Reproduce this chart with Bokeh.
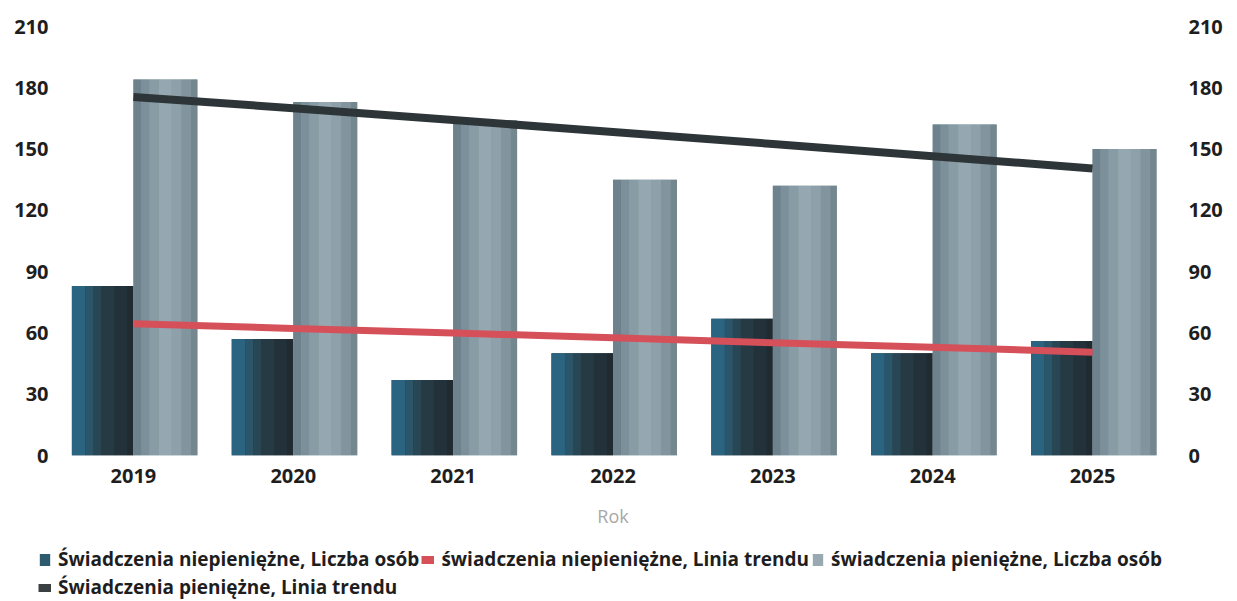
from bokeh.plotting import figure
from bokeh.models import (FactorRange, Range1d, LinearAxis, FixedTicker, Legend, LegendItem)
from bokeh.transform import dodge
from bokeh.layouts import column
from bokeh.embed import file_html
from bokeh.resources import INLINE

years = ["2019", "2020", "2021", "2022", "2023", "2024", "2025"]
niepieniezne = [83, 57, 37, 50, 67, 50, 56]
pieniezne = [184, 173, 164, 135, 132, 162, 150]
trend_niepieniezne = [64.5, 62.2, 60.0, 57.6, 55.2, 53.0, 50.6]
trend_pieniezne = [175.5, 170.0, 164.2, 158.4, 152.5, 146.5, 140.5]
y_ticks = [0, 30, 60, 90, 120, 150, 180, 210]

labels = ["Świadczenia niepieniężne, Liczba osób",
          "świadczenia niepieniężne, Linia trendu",
          "świadczenia pieniężne, Liczba osób",
          "Świadczenia pieniężne, Linia trendu"]

src = dict(year=years, a=niepieniezne, b=pieniezne,
           ta=trend_niepieniezne, tb=trend_pieniezne)

W = 1226
p = figure(x_range=FactorRange(*years), y_range=Range1d(0, 210),
           width=W, height=547,
           output_backend="svg", toolbar_location=None,
           min_border_left=53, min_border_right=54, min_border_top=26,
           min_border_bottom=92)
p.frame_align = False
p.outline_line_color = None
p.grid.visible = False
p.background_fill_color = "white"

# shading strips: (offset within bar, width, colour) - styling only
dark_strips = [(-0.3425, 0.085, "#2a6480"), (-0.275, 0.05, "#2b5568"),
               (-0.225, 0.05, "#284654"), (-0.16, 0.08, "#263a44"),
               (-0.08, 0.08, "#23323a"), (-0.02, 0.04, "#1f2a31")]
light_strips = [(0.025, 0.05, "#6d828c"), (0.075, 0.05, "#7b909a"),
                (0.13, 0.06, "#889ca6"), (0.2, 0.08, "#95a8b1"),
                (0.27, 0.06, "#8ea1aa"), (0.33, 0.06, "#82959f"),
                (0.38, 0.04, "#74878f")]

p.vbar(x=dodge("year", -0.1925, range=p.x_range), top="a", width=0.385,
       source=src, fill_color="#263c47", line_color=None)
for off, w, c in dark_strips:
    p.vbar(x=dodge("year", off, range=p.x_range), top="a", width=w,
           source=src, fill_color=c, line_color=None)

p.vbar(x=dodge("year", 0.2, range=p.x_range), top="b", width=0.40,
       source=src, fill_color="#879aa4", line_color=None)
for off, w, c in light_strips:
    p.vbar(x=dodge("year", off, range=p.x_range), top="b", width=w,
           source=src, fill_color=c, line_color=None)

# trend lines
p.line(x="year", y="tb", source=src, line_color="#2e3538", line_width=8)
p.line(x="year", y="ta", source=src, line_color="#d6505a", line_width=7)

tick_font = "Open Sans"
for ax in p.yaxis:
    ax.ticker = FixedTicker(ticks=y_ticks)
right = LinearAxis(ticker=FixedTicker(ticks=y_ticks))
p.add_layout(right, "right")

for ax in p.yaxis + p.xaxis:
    ax.axis_line_color = None
    ax.major_tick_line_color = None
    ax.minor_tick_line_color = None
    ax.major_tick_out = 0
    ax.major_tick_in = 0
    ax.major_label_text_font = tick_font
    ax.major_label_text_font_style = "bold"
    ax.major_label_text_font_size = "20px"
    ax.major_label_text_color = "#1e1e1e"

p.yaxis[0].major_label_standoff = 5
right.major_label_standoff = 16
p.xaxis.major_label_standoff = 13
p.xaxis.axis_label = "Rok"
p.xaxis.axis_label_text_font = "Open Sans"
p.xaxis.axis_label_text_font_style = "normal"
p.xaxis.axis_label_text_font_size = "18px"
p.xaxis.axis_label_text_color = "#a8a8a8"
p.xaxis.axis_label_standoff = 18

# legend strip below the chart
q = figure(width=W, height=54, x_range=Range1d(0, 1), y_range=Range1d(0, 1),
           output_backend="svg", toolbar_location=None,
           x_axis_location=None, y_axis_location=None,
           min_border_left=0, min_border_right=0, min_border_top=0, min_border_bottom=0)
q.frame_align = False
q.outline_line_color = None
q.grid.visible = False

r1 = q.vbar(x=[5], top=[6], bottom=[5], width=0.1, fill_color="#2e5a6e", line_color=None)
r2 = q.line(x=[5, 6], y=[5, 5], line_color="#d6505a", line_width=8)
r3 = q.vbar(x=[5], top=[6], bottom=[5], width=0.1, fill_color="#98a9b2", line_color=None)
r4 = q.line(x=[5, 6], y=[5, 5], line_color="#3a3f42", line_width=8)

legend = Legend(items=[LegendItem(label=l, renderers=[r]) for l, r in zip(labels, [r1, r2, r3, r4])],
                orientation="horizontal", ncols=3, location=(38, 1),
                label_text_font="Open Sans", label_text_font_style="bold",
                label_text_font_size="19px", label_text_color="#1e1e1e",
                glyph_width=13, glyph_height=15, label_standoff=7,
                spacing=2, padding=0, margin=0, border_line_color=None,
                background_fill_alpha=0, label_height=24)
q.add_layout(legend, "center")

open("out.html", "w").write(file_html(column(p, q, spacing=0), INLINE))
